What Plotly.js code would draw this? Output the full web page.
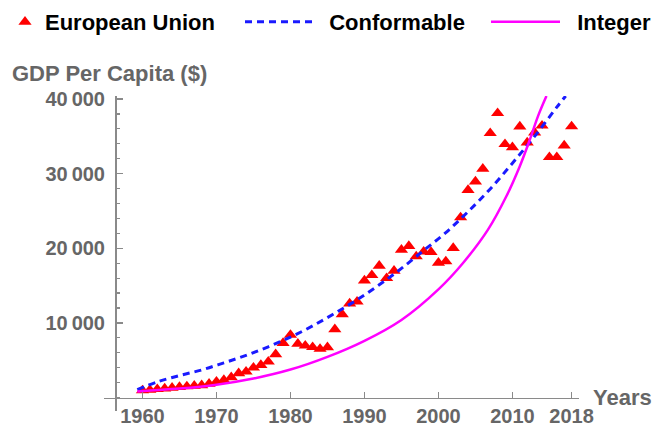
<!DOCTYPE html>
<html><head><meta charset="utf-8">
<script src="https://cdn.plot.ly/plotly-3.0.1.min.js"></script>
<style>html,body{margin:0;padding:0;background:#fff}</style>
</head><body><div id="chart" style="width:658px;height:426px"></div>
<script>
const years = [1960,1961,1962,1963,1964,1965,1966,1967,1968,1969,
  1970,1971,1972,1973,1974,1975,1976,1977,1978,1979,
  1980,1981,1982,1983,1984,1985,1986,1987,1988,1989,
  1990,1991,1992,1993,1994,1995,1996,1997,1998,1999,
  2000,2001,2002,2003,2004,2005,2006,2007,2008,2009,
  2010,2011,2012,2013,2014,2015,2016,2017,2018];
const gdpEU = [950,1030,1120,1210,1310,1400,1490,1570,1650,1850,
  2120,2350,2710,3250,3460,4000,4360,4810,5800,7300,
  8390,7200,6950,6750,6520,6740,9150,11150,12600,12850,
  15680,16400,17650,16000,16980,19800,20300,18900,19550,19500,
  18050,18230,20030,24130,27800,28930,30650,35420,38100,33950,
  33530,36300,34160,35500,36420,32210,32210,33760,36320];

const conformYears = [1959.3,1962,1965,1968,1971,1974,1977,1980,1983,1986,1989,1992,1995,1998,2001,2004,2007,2010,2013,2016,2017.2];
const conformValues = [1050,2100,2950,3700,4650,5650,6800,8100,9600,11300,13100,15100,17300,19700,22100,24900,27950,31400,35000,38900,40400];

const integerYears = [1959.3,1965,1970,1975,1980,1985,1990,1995,2000,2003.3,2006.7,2009.2,2011,2012.3,2013.5,2014.6];
const integerValues = [820,1200,1720,2550,3750,5450,7600,10400,14500,18000,22500,27000,31000,34400,37800,40400];

const xTickVals = [1960,1970,1980,1990,2000,2010,2018];
const xTickText = ['1960','1970','1980','1990','2000','2010','2018'];
const yTickVals = [10000,20000,30000,40000];
const yTickText = ['10\u2009000','20\u2009000','30\u2009000','40\u2009000'];

const FAM = 'Liberation Sans, Arial, sans-serif';
const PL = 104, PR = 579, PT = 96, PB = 411;
const W = PR - PL, H = PB - PT;
const px = v => (v - PL) / W;
const py = v => (PB - v) / H;

const traces = [
  {x: years, y: gdpEU, type: 'scatter', mode: 'markers', name: 'European Union',
   marker: {symbol: 'triangle-up', size: 11.5, color: '#ff0000'}, legend: 'legend'},
  {x: conformYears, y: conformValues, type: 'scatter', mode: 'lines', name: '\u00a0\u00a0Conformable',
   line: {color: '#1a1aff', width: 3, dash: '7px,5px', shape: 'spline'}, legend: 'legend2'},
  {x: integerYears, y: integerValues, type: 'scatter', mode: 'lines', name: '\u00a0\u00a0Integer',
   line: {color: '#ff00ff', width: 2.5, shape: 'spline'}, legend: 'legend3'}
];

const legFont = {family: FAM, size: 22, weight: 'bold', color: '#000'};
const legBase = {orientation: 'h', xanchor: 'left', yanchor: 'middle', y: py(22),
  font: legFont, bgcolor: 'rgba(0,0,0,0)', borderwidth: 0};

const layout = {
  width: 658, height: 426,
  margin: {l: PL, r: 658 - PR, t: PT, b: 426 - PB, autoexpand: false},
  paper_bgcolor: '#fff', plot_bgcolor: '#fff',
  showlegend: true,
  legend: Object.assign({}, legBase, {x: px(5), itemwidth: 30}),
  legend2: Object.assign({}, legBase, {x: px(240), itemwidth: 67}),
  legend3: Object.assign({}, legBase, {x: px(486), itemwidth: 69}),
  xaxis: {range: [1954.8, 2019.0], anchor: 'free', position: py(397.6), showgrid: false, zeroline: false,
    showline: true, linecolor: '#8a8a8a', linewidth: 1.5,
    ticks: 'inside', ticklen: 6, tickwidth: 1.3, tickcolor: '#8a8a8a',
    tickmode: 'array', tickvals: xTickVals, ticktext: xTickText,
    tickfont: {family: FAM, size: 20, weight: 'bold', color: '#666'}, ticklabelstandoff: 0},
  yaxis: {range: [-1800, 40400], anchor: 'free', position: px(115), showgrid: false, zeroline: false,
    showline: true, linecolor: '#8a8a8a', linewidth: 1.5,
    ticks: 'inside', ticklen: 6, tickwidth: 1.3, tickcolor: '#8a8a8a',
    tickmode: 'array', tickvals: yTickVals, ticktext: yTickText,
    tickfont: {family: FAM, size: 20, weight: 'bold', color: '#666'}, ticklabelstandoff: 6,
    minor: {dtick: 2000, tick0: 0, ticks: 'inside', ticklen: 3.5, tickwidth: 1.2, tickcolor: '#8a8a8a'}},
  annotations: [
    {text: 'GDP Per Capita ($)', xref: 'paper', yref: 'paper', x: px(10), y: py(73),
     xanchor: 'left', yanchor: 'middle', showarrow: false,
     font: {family: FAM, size: 22, weight: 'bold', color: '#666'}},
    {text: 'Years', xref: 'paper', yref: 'paper', x: px(591), y: py(397),
     xanchor: 'left', yanchor: 'middle', showarrow: false,
     font: {family: FAM, size: 22, weight: 'bold', color: '#666'}}
  ]
};

Plotly.newPlot('chart', traces, layout, {displayModeBar: false, staticPlot: true});
</script></body></html>
